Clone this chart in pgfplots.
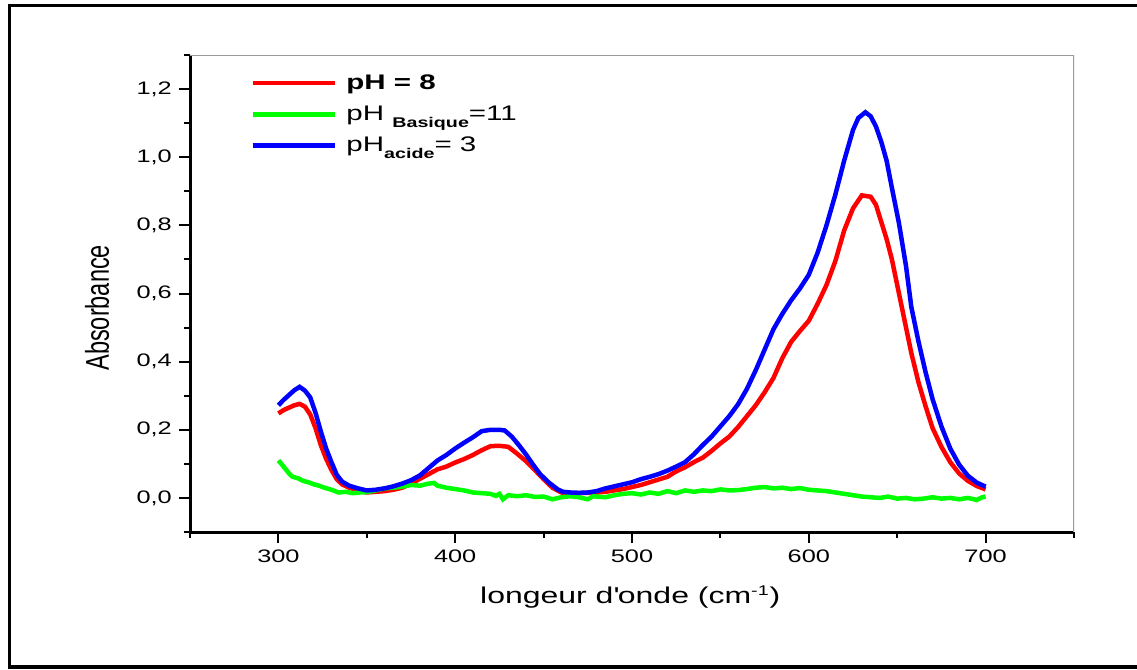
\documentclass[border=0pt]{standalone}
\usepackage{pgfplots}
\pgfplotsset{compat=1.18}
\usepackage{fontspec}
\setmainfont{Liberation Sans}[FakeStretch=1.4]
\newfontfamily\plainfont{Liberation Sans}
\definecolor{cred}{RGB}{255,0,0}
\definecolor{cgreen}{RGB}{0,255,0}
\definecolor{cblue}{RGB}{0,0,255}
\begin{document}
\begin{tikzpicture}
\useasboundingbox (0,0) rectangle (22.74cm,13.38cm);
\draw[line width=0.07cm, black] (0.19cm,0.04cm) rectangle (23.2cm,13.27cm);
\begin{axis}[
  at={(3.8cm,2.74cm)}, anchor=south west,
  scale only axis, width=17.68cm, height=9.54cm,
  xmin=250, xmax=750, ymin=-0.1, ymax=1.3,
  axis lines*=left,
  axis line style={-, line width=0.06cm, black},
  xtick={300,400,500,600,700},
  minor xtick={250,350,450,550,650,750},
  ytick={0,0.2,0.4,0.6,0.8,1.0,1.2},
  minor ytick={-0.1,0.1,0.3,0.5,0.7,0.9,1.1,1.3},
  tick align=outside,
  major tick length=0.22cm, minor tick length=0.12cm,
  tick style={line width=0.04cm, black},
  /pgf/number format/assume math mode=true,
  yticklabel style={/pgf/number format/use comma, /pgf/number format/fixed, /pgf/number format/fixed zerofill, /pgf/number format/precision=1, xshift=-0.02cm},
  xticklabel style={/pgf/number format/fixed, /pgf/number format/precision=0, yshift=-0.02cm},
  ticklabel style={font=\fontsize{10.3}{12}\selectfont},
  every axis x label/.style={at={(rel axis cs:0.498,0)}, anchor=base, yshift=-1.42cm},
  every axis y label/.style={at={(rel axis cs:0,0.47)}, anchor=center, xshift=-1.86cm},
  xlabel={\fontsize{13}{15}\selectfont longeur d\textquotesingle onde (cm\textsuperscript{\fontsize{8}{9}\selectfont -1})},
  ylabel={\scalebox{1.4}[1]{\rotatebox{90}{\fontsize{13.4}{15}\plainfont Absorbance}}},
  legend cell align=left,
  legend style={draw=none, fill=none, at={(rel axis cs:0.062,0.975)}, anchor=north west,
     font=\fontsize{12}{14}\selectfont, row sep=0.14cm, column sep=0.12cm},
  legend image code/.code={\draw[#1] (0cm,0cm) -- (1.64cm,0cm);},
]
\draw[gray!80, line width=0.025cm] (rel axis cs:0,1) -- (rel axis cs:1,1) -- (rel axis cs:1,0);
\addplot[cred, line width=0.09cm] coordinates {
(300,0.248)(303,0.258)(306,0.265)(309,0.272)(312,0.276)(315,0.268)(318,0.245)(321,0.205)(324,0.155)(327,0.115)(330,0.082)(333,0.055)(336,0.040)(340,0.030)(345,0.022)(350,0.016)(355,0.018)(360,0.020)(365,0.024)(370,0.030)(375,0.042)(380,0.056)(385,0.070)(390,0.084)(395,0.092)(400,0.104)(405,0.114)(410,0.126)(415,0.140)(420,0.152)(425,0.153)(430,0.150)(435,0.130)(440,0.108)(445,0.082)(450,0.055)(455,0.030)(460,0.016)(465,0.013)(470,0.014)(475,0.015)(480,0.016)(485,0.018)(490,0.022)(495,0.026)(500,0.032)(505,0.038)(510,0.046)(515,0.054)(520,0.062)(525,0.078)(530,0.090)(535,0.105)(540,0.118)(545,0.138)(550,0.160)(555,0.180)(560,0.208)(565,0.240)(570,0.272)(575,0.310)(580,0.352)(585,0.410)(590,0.458)(595,0.490)(600,0.520)(605,0.570)(610,0.625)(615,0.695)(620,0.785)(625,0.850)(630,0.888)(635,0.884)(638,0.860)(641,0.810)(644,0.760)(647,0.700)(651,0.600)(655,0.500)(658,0.425)(662,0.340)(666,0.270)(670,0.205)(675,0.150)(680,0.105)(685,0.072)(690,0.050)(695,0.035)(700,0.025)
};
\addlegendentry{\textbf{pH = 8}}
\addplot[cgreen, line width=0.09cm] coordinates {
(300,0.110)(302,0.098)(304,0.085)(306,0.072)(308,0.062)(311,0.058)(314,0.050)(317,0.046)(320,0.040)(323,0.036)(326,0.030)(330,0.024)(334,0.016)(338,0.018)(342,0.014)(346,0.016)(350,0.017)(355,0.022)(360,0.028)(365,0.030)(370,0.033)(375,0.038)(380,0.036)(385,0.042)(388,0.044)(390,0.036)(395,0.030)(400,0.026)(405,0.022)(410,0.016)(415,0.014)(420,0.012)(423,0.006)(425,0.012)(427,-0.004)(430,0.008)(435,0.005)(440,0.008)(445,0.003)(450,0.004)(455,-0.004)(460,0.002)(465,0.005)(470,0.002)(475,-0.004)(478,0.005)(480,0.004)(485,0.002)(490,0.008)(495,0.012)(500,0.014)(505,0.010)(510,0.016)(515,0.012)(520,0.020)(525,0.014)(530,0.022)(535,0.018)(540,0.022)(545,0.020)(550,0.025)(555,0.022)(560,0.023)(565,0.026)(570,0.030)(575,0.032)(580,0.028)(585,0.030)(590,0.026)(595,0.029)(600,0.024)(605,0.022)(610,0.020)(615,0.016)(620,0.012)(625,0.008)(630,0.004)(635,0.002)(640,0.000)(645,0.004)(650,-0.002)(655,0.000)(660,-0.004)(665,-0.002)(670,0.002)(675,-0.002)(680,0.000)(685,-0.004)(690,0.000)(695,-0.006)(698,0.002)(700,0.004)
};
\addlegendentry{pH \raisebox{-0.14cm}{\fontsize{8}{9}\selectfont\bfseries Basique}=11}
\addplot[cblue, line width=0.09cm] coordinates {
(300,0.272)(303,0.288)(306,0.302)(309,0.316)(312,0.326)(315,0.315)(318,0.295)(321,0.250)(324,0.195)(327,0.145)(330,0.105)(333,0.068)(336,0.048)(340,0.036)(345,0.028)(350,0.022)(355,0.024)(360,0.028)(365,0.034)(370,0.042)(375,0.052)(380,0.066)(385,0.088)(390,0.110)(395,0.126)(400,0.145)(405,0.162)(410,0.178)(415,0.196)(420,0.200)(425,0.200)(428,0.198)(432,0.180)(436,0.155)(440,0.128)(444,0.098)(448,0.070)(453,0.045)(458,0.025)(461,0.018)(465,0.016)(470,0.015)(475,0.016)(480,0.020)(485,0.028)(490,0.034)(495,0.040)(500,0.046)(505,0.055)(510,0.062)(515,0.070)(520,0.080)(525,0.092)(530,0.105)(535,0.128)(540,0.155)(545,0.180)(550,0.210)(555,0.240)(560,0.275)(565,0.320)(570,0.375)(575,0.435)(580,0.495)(585,0.540)(590,0.580)(595,0.615)(600,0.655)(605,0.720)(610,0.800)(615,0.890)(620,0.990)(625,1.080)(628,1.115)(632,1.132)(635,1.120)(638,1.090)(641,1.045)(644,0.990)(647,0.910)(651,0.806)(655,0.680)(658,0.560)(662,0.460)(666,0.370)(670,0.290)(675,0.210)(680,0.145)(685,0.098)(690,0.065)(695,0.045)(700,0.033)
};
\addlegendentry{pH\raisebox{-0.14cm}{\fontsize{8}{9}\selectfont\bfseries acide}= 3}
\end{axis}
\end{tikzpicture}
\end{document}
